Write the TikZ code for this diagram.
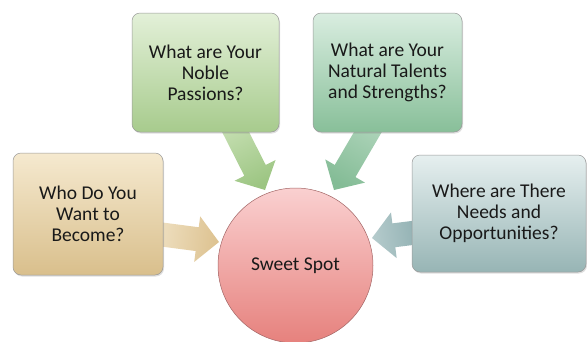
\documentclass[tikz,border=0pt]{standalone}
\usepackage{fontspec}
\setmainfont{Carlito}
\usetikzlibrary{calc,shadows,backgrounds}
\definecolor{tanTop}{HTML}{F5E9CF}
\definecolor{tanBot}{HTML}{D9BF8C}
\definecolor{leafTop}{HTML}{E3F0D8}
\definecolor{leafBot}{HTML}{A7CB8D}
\definecolor{mintTop}{HTML}{D9EDE0}
\definecolor{mintBot}{HTML}{88BF99}
\definecolor{slateTop}{HTML}{E6EFEF}
\definecolor{slateBot}{HTML}{97B5B5}
\definecolor{spotTop}{HTML}{FAD0D0}
\definecolor{spotBot}{HTML}{E6817D}
\definecolor{tanA}{HTML}{EEDFC0}
\definecolor{tanB}{HTML}{DDC290}
\definecolor{leafA}{HTML}{C4DEB0}
\definecolor{leafB}{HTML}{9CC582}
\definecolor{mintA}{HTML}{ACD3B8}
\definecolor{mintB}{HTML}{84BC96}
\definecolor{slateA}{HTML}{8FAFB1}
\definecolor{slateB}{HTML}{B5CBCC}
\begin{document}
\begin{tikzpicture}[x=1pt,y=-1pt,
    box/.style = {rectangle, rounded corners=8pt, draw=black!40, line width=0.5pt,
                  align=center, text=black!90, font=\fontsize{19.5}{21}\selectfont,
                  drop shadow={shadow xshift=1pt, shadow yshift=-1.5pt, opacity=0.25}},
    spot/.style = {circle, draw=red!40!black!60, line width=0.5pt, minimum size=155pt,
                   text=black!90, font=\fontsize{19.5}{21}\selectfont,
                   top color=spotTop, bottom color=spotBot}]
    \useasboundingbox (0,0) rectangle (587,341);

    % boxes
    \node[box, minimum width=150pt, minimum height=122pt, top color=tanTop, bottom color=tanBot]
        (who) at (88,214) {Who Do You\\Want to\\Become?};
    \node[box, minimum width=147pt, minimum height=119pt, top color=leafTop, bottom color=leafBot]
        (noble) at (205.5,72.5) {What are Your\\Noble\\Passions?};
    \node[box, minimum width=149pt, minimum height=119pt, top color=mintTop, bottom color=mintBot]
        (talent) at (387.5,72.5) {What are Your\\Natural Talents\\and Strengths?};
    \node[box, minimum width=174pt, minimum height=117pt, top color=slateTop, bottom color=slateBot]
        (needs) at (499,213.5) {Where are There\\Needs and\\Opportunities?};
    \node[spot] (sweet) at (295.5,265.5) {Sweet Spot};

    % arrow ends
    \coordinate (whoT) at (158,234);
    \coordinate (whoH) at (219,242);
    \coordinate (nobleT) at (232,125);
    \coordinate (nobleH) at (265,190);
    \coordinate (talentT) at (372,125);
    \coordinate (talentH) at (334,190);
    \coordinate (needsT) at (420,232);
    \coordinate (needsH) at (372,238);

    \begin{scope}[on background layer]
    \foreach \t/\h/\ca/\cb/\ang in {whoT/whoH/tanA/tanB/-97.6,
                                   nobleT/nobleH/leafA/leafB/-153.1,
                                   talentT/talentH/mintA/mintB/-210.3,
                                   needsT/needsH/slateA/slateB/-262.9}{
        \coordinate (b) at ($(\h)!22pt!(\t)$);
        \path[bottom color=\ca, top color=\cb, shading angle=\ang]
            ($(\t)!12pt!90:(\h)$) -- ($(b)!12pt!90:(\h)$) -- ($(b)!23pt!90:(\h)$) -- (\h)
            -- ($(b)!23pt!-90:(\h)$) -- ($(b)!12pt!-90:(\h)$) -- ($(\t)!12pt!-90:(\h)$) -- cycle;
    }
    \end{scope}
\end{tikzpicture}
\end{document}
